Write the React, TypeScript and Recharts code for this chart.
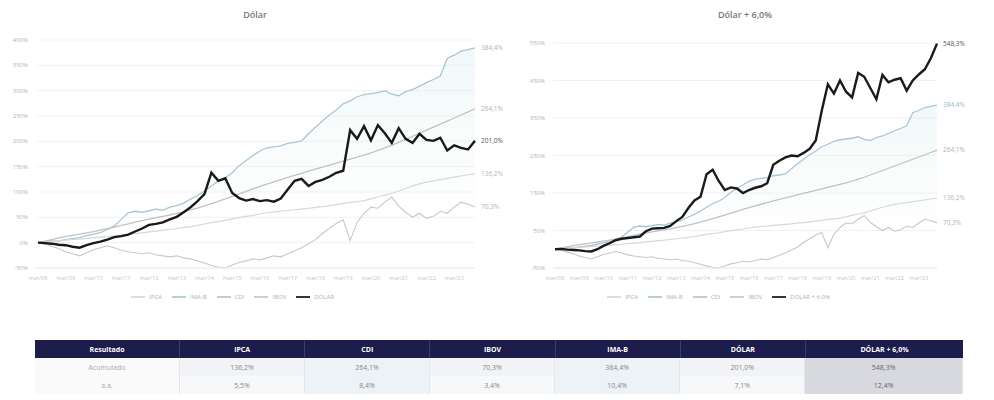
import React from 'react';
import {
  ComposedChart,
  Line,
  Area,
  XAxis,
  YAxis,
  CartesianGrid,
  Legend
} from 'recharts';

const FONT = '"Open Sans", Arial, sans-serif';

const dates = [
  'mar/08', 'jun/08', 'set/08', 'dez/08', 'mar/09', 'jun/09', 'set/09', 'dez/09',
  'mar/10', 'jun/10', 'set/10', 'dez/10', 'mar/11', 'jun/11', 'set/11', 'dez/11',
  'mar/12', 'jun/12', 'set/12', 'dez/12', 'mar/13', 'jun/13', 'set/13', 'dez/13',
  'mar/14', 'jun/14', 'set/14', 'dez/14', 'mar/15', 'jun/15', 'set/15', 'dez/15',
  'mar/16', 'jun/16', 'set/16', 'dez/16', 'mar/17', 'jun/17', 'set/17', 'dez/17',
  'mar/18', 'jun/18', 'set/18', 'dez/18', 'mar/19', 'jun/19', 'set/19', 'dez/19',
  'mar/20', 'jun/20', 'set/20', 'dez/20', 'mar/21', 'jun/21', 'set/21', 'dez/21',
  'mar/22', 'jun/22', 'set/22', 'dez/22', 'mar/23', 'jun/23', 'set/23', 'dez/23'
];

const ipca = [
  100, 101.5, 103, 104, 105.2, 106.3, 107.1, 108.4, 109.6, 111, 112.2, 113.4, 115, 116.4, 117.8, 119.5,
  121.2, 122.8, 124.2, 126, 128, 130, 131.8, 134, 136.8, 139.5, 141.6, 144, 147, 149.6, 151.8, 154,
  156.6, 159, 160.6, 162, 163.5, 165, 166.2, 167.5, 169.5, 171.2, 173, 175, 177.4, 179.6, 181, 183,
  186.5, 190.2, 194, 197, 202, 207, 212, 216, 219.5, 222, 224.5, 227, 229.3, 231.6, 234, 236.2
];

const cdi = [
  100, 103, 106.2, 109.5, 112.3, 114.6, 116.9, 119.3, 121.8, 124.6, 127.5, 130.6, 133.9, 137.3, 140.6, 143.6,
  146.5, 149.2, 151.8, 154.6, 157.6, 160.9, 164.5, 168.4, 172.6, 177, 181.6, 186.4, 191.3, 196.2, 201.2, 206.2,
  211, 215.5, 220, 224.5, 229, 233, 237, 241, 245, 249, 253, 257, 261, 265, 269, 273,
  277, 282, 287, 292, 298, 304, 310, 316, 322, 328, 334, 340, 346, 352, 358, 364.1
];

const ibov = [
  100, 97, 93, 88, 82, 78, 74, 80, 86, 90, 94, 90, 85, 82, 80, 78,
  80, 76, 74, 72, 74, 70, 68, 64, 60, 55, 52, 50, 56, 61, 64, 68,
  66, 70, 74, 72, 78, 84, 90, 98, 106, 118, 128, 138, 145, 104, 140, 158,
  170, 168, 180, 190, 172, 160, 150, 158, 148, 152, 162, 158, 170, 180, 176, 170.3
];

const imab = [
  100, 102, 104, 103, 106, 108, 110, 114, 117, 120, 126, 133, 146, 159, 162, 160,
  163, 166, 164, 170, 173, 178, 186, 193, 202, 212, 222, 228, 238, 252, 262, 272,
  281, 287, 289, 291, 296, 298, 301, 315, 328, 340, 352, 362, 374, 380, 388, 392,
  394, 396, 400, 393, 390, 398, 402, 409, 416, 422, 429, 464, 470, 478, 481, 484.4
];

const dolar = [
  100, 99, 98, 96, 95, 92, 90, 95, 99, 102, 106, 111, 113, 116, 122, 128,
  135, 137, 140, 146, 151, 160, 170, 182, 196, 238, 222, 227, 198, 188, 183, 186,
  182, 184, 181, 187, 205, 222, 226, 212, 220, 224, 230, 238, 242, 322, 305, 330,
  302, 332, 316, 297, 326, 305, 297, 315, 303, 301, 307, 282, 292, 287, 284, 301
];

const dolarMais6 = [
  100, 101, 99, 98, 97, 95, 94, 100, 109, 116, 124, 128, 130, 132, 134, 148,
  155, 156, 157, 162, 175, 186, 210, 230, 240, 300, 312, 282, 258, 265, 262, 250,
  258, 264, 268, 276, 325, 336, 345, 350, 348, 357, 368, 390, 470, 540, 515, 550,
  520, 505, 570, 560, 530, 500, 565, 545, 552, 556, 523, 550, 566, 580, 610, 648.3
];

const seriesNames = ['IPCA', 'IMA-B', 'CDI', 'IBOV', 'DÓLAR'];
const endLabels = ['136,2%', '384,4%', '264,1%', '70,3%', '201,0%'];
const endLabelPlus = '548,3%';

const leftTicks = [50, 100, 150, 200, 250, 300, 350, 400, 450, 500];
const rightTicks = [50, 150, 250, 350, 450, 550, 650];

const tableHeaders = ['Resultado', 'IPCA', 'CDI', 'IBOV', 'IMA-B', 'DÓLAR', 'DÓLAR + 6,0%'];
const rowNames = ['Acumulado', 'a.a.'];
const accumulated = ['136,2%', '264,1%', '70,3%', '384,4%', '201,0%', '548,3%'];
const annual = ['5,5%', '8,4%', '3,4%', '10,4%', '7,1%', '12,4%'];

const data = dates.map((d, i) => ({
  date: d,
  ipca: ipca[i],
  cdi: cdi[i],
  ibov: ibov[i],
  imab: imab[i],
  dolar: dolar[i],
  dolarMais6: dolarMais6[i]
}));

const lastIndex = dates.length - 1;
const legendOrder = ['ipca', 'imab', 'cdi', 'ibov', 'dolar', 'dolarMais6'];

const endDot = (label: string, color: string) => (props: any) => {
  const { cx, cy, index } = props;
  if (index !== lastIndex) return <g key={`e-${index}`} />;
  return (
    <text
      key={`e-${index}`}
      x={cx + 6}
      y={cy + 2}
      fontSize={6.5}
      fill={color}
      fontFamily={FONT}
    >
      {label}
    </text>
  );
};

const pctTick = (v: number) => `${v - 100}%`;

const IndexChart: React.FC<{ blackKey: string; blackName: string; blackLabel: string; domain: number[]; ticks: number[]; width: number; yWidth: number; marginTop: number; marginRight: number; gradId: string }> = (p) => (
  <ComposedChart
    width={p.width}
    height={310}
    data={data}
    margin={{ top: p.marginTop, right: p.marginRight, left: 0, bottom: 2 }}
    style={{ fontFamily: FONT }}
  >
    <defs>
      <linearGradient id={p.gradId} x1="0" y1="0" x2="0" y2="1">
        <stop offset="0%" stopColor="#d6ecf5" stopOpacity={0.6} />
        <stop offset="50%" stopColor="#e2f3ea" stopOpacity={0.3} />
        <stop offset="100%" stopColor="#ffffff" stopOpacity={0} />
      </linearGradient>
    </defs>
    <CartesianGrid vertical={false} stroke="#f1f1f1" />
    <XAxis
      dataKey="date"
      interval={3}
      tick={{ fontSize: 5.5, fill: '#c4c4c4' }}
      tickLine={false}
      axisLine={{ stroke: '#ececec' }}
      height={22}
      padding={{ left: 2, right: 0 }}
    />
    <YAxis
      domain={p.domain}
      ticks={p.ticks}
      tickFormatter={pctTick}
      tick={{ fontSize: 6, fill: '#b4b4b4' }}
      tickLine={false}
      axisLine={false}
      width={p.yWidth}
    />
    <Legend
      verticalAlign="bottom"
      height={18}
      iconType="plainline"
      iconSize={14}
      itemSorter={(item: any) => legendOrder.indexOf(String(item.dataKey))}
      wrapperStyle={{ fontSize: 6, fontFamily: FONT }}
      formatter={(v: string) => <span style={{ color: '#b0b0b0' }}>{v}</span>}
    />
    <Line
      type="linear"
      dataKey="ipca"
      name={seriesNames[0]}
      stroke="#d8d8d8"
      strokeWidth={1.2}
      dot={endDot(endLabels[0], '#b8b8b8')}
      activeDot={false}
      isAnimationActive={false}
    />
    <Area
      type="linear"
      dataKey="imab"
      name={seriesNames[1]}
      stroke="#a9c6d6"
      strokeWidth={1.3}
      fill={`url(#${p.gradId})`}
      baseValue={p.domain[0]}
      dot={endDot(endLabels[1], '#a0b8c4')}
      activeDot={false}
      isAnimationActive={false}
    />
    <Line
      type="linear"
      dataKey="cdi"
      name={seriesNames[2]}
      stroke="#c2c2c2"
      strokeWidth={1.3}
      dot={endDot(endLabels[2], '#b0b0b0')}
      activeDot={false}
      isAnimationActive={false}
    />
    <Line
      type="linear"
      dataKey="ibov"
      name={seriesNames[3]}
      stroke="#c8c8c8"
      strokeWidth={1.1}
      dot={endDot(endLabels[3], '#b4b4b4')}
      activeDot={false}
      isAnimationActive={false}
    />
    <Line
      type="linear"
      dataKey={p.blackKey}
      name={p.blackName}
      stroke="#1a1a1a"
      strokeWidth={2.4}
      dot={endDot(p.blackLabel, '#555555')}
      activeDot={false}
      isAnimationActive={false}
    />
  </ComposedChart>
);

const cellBase: React.CSSProperties = {
  display: 'flex',
  alignItems: 'center',
  justifyContent: 'center',
  fontSize: 7,
  borderRight: '1px solid #e4e6ea'
};

const colWidths = [145, 125, 125, 125, 125, 125, 158];

const App: React.FC = () => (
  <div style={{ position: 'absolute', left: 0, top: 0, width: 994, height: 400, background: '#fff', fontFamily: FONT }}>
    <div style={{ position: 'absolute', left: 155, top: 8, width: 200, textAlign: 'center', fontSize: 9, fontWeight: 600, color: '#777' }}>
      Dólar
    </div>
    <div style={{ position: 'absolute', left: 645, top: 8, width: 200, textAlign: 'center', fontSize: 9, fontWeight: 600, color: '#777' }}>
      Dólar + 6,0%
    </div>

    <div style={{ position: 'absolute', left: 0, top: 0 }}>
      <IndexChart
        blackKey="dolar"
        blackName={seriesNames[4]}
        blackLabel={endLabels[4]}
        domain={[50, 500]}
        ticks={leftTicks}
        width={520}
        yWidth={36}
        marginTop={40}
        marginRight={45}
        gradId="fillLeft"
      />
    </div>
    <div style={{ position: 'absolute', left: 510, top: 0 }}>
      <IndexChart
        blackKey="dolarMais6"
        blackName={tableHeaders[6]}
        blackLabel={endLabelPlus}
        domain={[50, 650]}
        ticks={rightTicks}
        width={480}
        yWidth={43}
        marginTop={43}
        marginRight={53}
        gradId="fillRight"
      />
    </div>

    <div style={{ position: 'absolute', left: 35, top: 340, width: 928 }}>
      <div style={{ display: 'flex', height: 18, background: '#1c1d4d' }}>
        {tableHeaders.map((h, i) => (
          <div key={h} style={{ ...cellBase, width: colWidths[i], color: '#ffffff', fontWeight: 700, borderRight: i < 6 ? '1px solid #3a3c6a' : 'none' }}>
            {h}
          </div>
        ))}
      </div>
      {[accumulated, annual].map((row, r) => (
        <div key={rowNames[r]} style={{ display: 'flex', height: 18, background: r === 0 ? '#f2f3f5' : '#f7f8f9' }}>
          <div style={{ ...cellBase, width: colWidths[0], color: '#a8a8b0', background: '#fafafa' }}>{rowNames[r]}</div>
          {row.map((v, i) => (
            <div
              key={i}
              style={{
                ...cellBase,
                width: colWidths[i + 1],
                color: i === 5 ? '#666' : '#888',
                background: i === 5 ? '#d7d9de' : i === 1 || i === 3 ? '#edf2f7' : undefined
              }}
            >
              {v}
            </div>
          ))}
        </div>
      ))}
    </div>
  </div>
);

export default App;
